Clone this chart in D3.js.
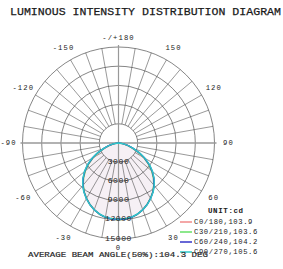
<!DOCTYPE html>
<html><head><meta charset="utf-8">
<script src="https://cdn.jsdelivr.net/npm/d3@7"></script>
<style>
html,body{margin:0;padding:0;background:#fff;}
svg{display:block;}
text{font-family:"Liberation Mono","DejaVu Sans Mono",monospace;fill:#222;}
</style></head>
<body>
<svg id="c" width="283" height="269"></svg>
<script>
// ---- data ----
const title = "LUMINOUS INTENSITY DISTRIBUTION DIAGRAM";
const ringValues = [3000, 6000, 9000, 12000, 15000];
const angleLabels = [
  {a: 180, t: "-/+180"}, {a: -150, t: "-150"}, {a: 150, t: "150"},
  {a: -120, t: "-120"}, {a: 120, t: "120"}, {a: -90, t: "-90"}, {a: 90, t: "90"},
  {a: -60, t: "-60"}, {a: 60, t: "60"}, {a: -30, t: "-30"}, {a: 30, t: "30"}, {a: 0, t: "0"}
];
const gammaAngles = [0, 10, 20, 30, 40, 50, 60, 70, 80, 90];
const c0Values  = [12000, 11800, 11100, 10000, 8600, 6800, 4600, 2300, 800, 0];
const c30Values = [12000, 11800, 11080, 9980, 8560, 6760, 4560, 2280, 790, 0];
const c60Values = [11950, 11780, 11100, 10020, 8650, 6880, 4700, 2380, 820, 0];
const c90Values = [11900, 11750, 11100, 10050, 8700, 6950, 4800, 2450, 850, 0];
const seriesNames = ["C0/180,103.9", "C30/210,103.6", "C60/240,104.2", "C90/270,105.6"];
const seriesColors = ["#f08a8a", "#66e066", "#3434c8", "#2ec8c8"];
const unitLabel = "UNIT:cd";
const beamText = "AVERAGE BEAM ANGLE(50%):104.3 DEG";

// ---- drawing ----
const svg = d3.select("#c");
const cx = 118.5, cy = 143, R = 96;
const r = d3.scaleLinear().domain([0, 15000]).range([0, R]);
const toRad = d => (180 - d) * Math.PI / 180; // d3 radial angle (0 = top, clockwise)

svg.append("text").attr("x", 10).attr("y", 15).attr("font-size", 11.4)
  .attr("textLength", 271).attr("lengthAdjust", "spacingAndGlyphs")
  .attr("fill", "#111").attr("stroke", "#111").attr("stroke-width", 0.25).text(title);

const g = svg.append("g").attr("transform", `translate(${cx},${cy})`);

const allSeries = [c0Values, c30Values, c60Values, c90Values];
function pts(vals) {
  const p = [];
  for (let i = gammaAngles.length - 1; i >= 0; i--) p.push([-gammaAngles[i], vals[i]]);
  for (let i = 1; i < gammaAngles.length; i++) p.push([gammaAngles[i], vals[i]]);
  return p;
}
const radial = d3.lineRadial().angle(d => toRad(d[0])).radius(d => r(d[1]))
  .curve(d3.curveCatmullRom.alpha(0.5));
g.append("path").attr("d", radial(pts(c0Values))).attr("fill", "#f6f0f5").attr("stroke", "none");

// rings
g.selectAll("circle.ring").data(ringValues).enter().append("circle")
  .attr("r", d => r(d)).attr("fill", "none").attr("stroke", "#444").attr("stroke-width", 0.65);

// spokes every 10 degrees
const spokes = d3.range(-170, 181, 10).filter(a => a % 90 !== 0);
g.selectAll("line.spoke").data(spokes).enter().append("line")
  .attr("x1", d => r(ringValues[0]) * Math.sin(toRad(d))).attr("y1", d => -r(ringValues[0]) * Math.cos(toRad(d)))
  .attr("x2", d => R * Math.sin(toRad(d))).attr("y2", d => -R * Math.cos(toRad(d)))
  .attr("stroke", "#444").attr("stroke-width", 0.55);

// main axes
g.append("line").attr("x1", -R - 2).attr("x2", R + 2).attr("y1", 0).attr("y2", 0)
  .attr("stroke", "#999").attr("stroke-width", 1.6);
g.append("line").attr("y1", -R - 2).attr("y2", R + 2).attr("x1", 0).attr("x2", 0)
  .attr("stroke", "#999").attr("stroke-width", 1.2);

// series curves
allSeries.forEach((vals, i) => {
  g.append("path").attr("d", radial(pts(vals))).attr("fill", "none")
    .attr("stroke", seriesColors[i]).attr("stroke-width", 1.4);
});

// ring labels
g.selectAll("text.ringlab").data(ringValues).enter().append("text")
  .attr("x", 0).attr("y", d => r(d) - 1).attr("text-anchor", "middle")
  .attr("dominant-baseline", "central").attr("font-size", 8).attr("letter-spacing", 0.6)
  .text(d => d);

// angle labels
const LR = 110;
g.selectAll("text.alab").data(angleLabels).enter().append("text")
  .attr("x", d => LR * Math.sin(toRad(d.a)))
  .attr("y", d => -LR * Math.cos(toRad(d.a)) + (d.a === 180 ? 5 : (d.a === 0 ? -5 : 0)))
  .attr("text-anchor", "middle").attr("dominant-baseline", "central")
  .attr("font-size", 7.2).attr("letter-spacing", 1.1).text(d => d.t);

// legend
svg.append("text").attr("x", 208).attr("y", 213).attr("font-size", 7.5).attr("font-weight", "bold")
  .attr("letter-spacing", 0.6).text(unitLabel);
const lg = svg.append("g");
seriesNames.forEach((n, i) => {
  const y = 222 + i * 10;
  lg.append("line").attr("x1", 180).attr("x2", 192).attr("y1", y).attr("y2", y)
    .attr("stroke", seriesColors[i]).attr("stroke-width", 1.5);
  lg.append("text").attr("x", 194).attr("y", y).attr("dominant-baseline", "central")
    .attr("font-size", 7.2).attr("letter-spacing", 0.6).attr("fill", "#555").text(n);
});

svg.append("text").attr("x", 28).attr("y", 256.5).attr("font-size", 8)
  .attr("textLength", 180).attr("lengthAdjust", "spacingAndGlyphs")
  .attr("fill", "#333").attr("stroke", "#333").attr("stroke-width", 0.2).text(beamText);
</script>
</body></html>
